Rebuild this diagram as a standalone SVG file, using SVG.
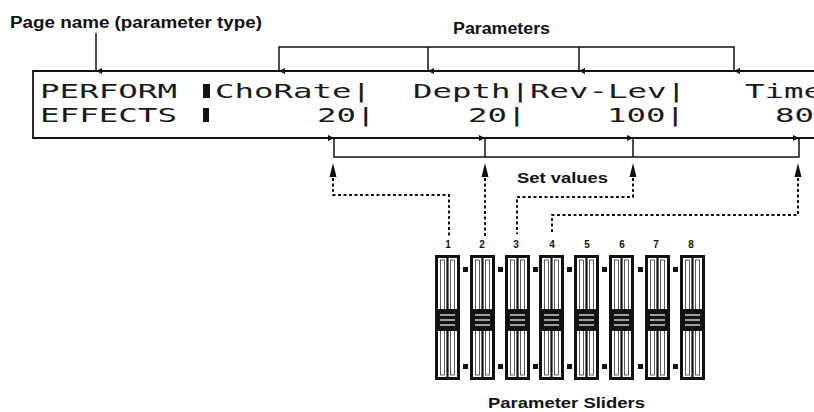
<svg xmlns="http://www.w3.org/2000/svg" width="814" height="412" viewBox="0 0 814 412">
<style>
.lbl{font-family:"Liberation Sans",Arial,sans-serif;font-weight:bold;fill:#111;}
.lcd{font-family:"DejaVu Sans Mono","Liberation Mono",monospace;font-size:19px;fill:#1a1a1a;}
.num{font-family:"Liberation Sans",Arial,sans-serif;font-weight:bold;font-size:10px;fill:#111;text-anchor:middle;}
.ln{stroke:#111;stroke-width:1.8;fill:none;}
.thin{stroke:#111;stroke-width:1.5;fill:none;}
.dot{stroke:#111;stroke-width:2;fill:none;stroke-dasharray:3 2.5;}
</style>
<defs>
<marker id="tipd" viewBox="0 0 6 6" refX="3" refY="6" markerWidth="6" markerHeight="6" orient="auto-start-reverse" markerUnits="userSpaceOnUse"><path d="M0,0 L6,0 L3,6 Z" fill="#111"/></marker>
<g id="slider">
<rect x="0" y="0" width="25" height="125" fill="#111"/>
<rect x="3" y="3" width="19" height="119" fill="#fff"/>
<rect x="5.5" y="5" width="4" height="115" fill="#fff" stroke="#333" stroke-width="0.8"/>
<rect x="15.5" y="5" width="4" height="115" fill="#fff" stroke="#333" stroke-width="0.8"/>
<line x1="12.5" y1="3" x2="12.5" y2="122" stroke="#111" stroke-width="2.2"/>
<rect x="3" y="54" width="19" height="22" fill="#111"/>
<line x1="5" y1="60" x2="20" y2="60" stroke="#fff" stroke-width="1.2"/>
<line x1="5" y1="65" x2="20" y2="65" stroke="#fff" stroke-width="1.2"/>
<line x1="5" y1="70" x2="20" y2="70" stroke="#fff" stroke-width="1.2"/>
</g>
<rect id="sq" width="5" height="5" fill="#111"/>
<path id="up" d="M0,0 L-3.5,14 L3.5,14 Z" fill="#111"/>
</defs>

<g id="page-name-label">
<text class="lbl" x="10" y="28" font-size="16" textLength="252" lengthAdjust="spacingAndGlyphs">Page name (parameter type)</text>
</g>
<g id="parameters-label">
<text class="lbl" x="453" y="34" font-size="16" textLength="97" lengthAdjust="spacingAndGlyphs">Parameters</text>
</g>

<g id="lcd-display">
<line class="ln" x1="33" y1="71" x2="814" y2="71"/>
<line class="ln" x1="33" y1="138" x2="814" y2="138"/>
<line class="ln" x1="33" y1="70" x2="33" y2="139"/>
<text class="lcd" x="40" y="98" textLength="137" lengthAdjust="spacingAndGlyphs">PERFORM</text>
<rect x="203" y="84" width="7" height="14" fill="#111"/>
<text class="lcd" x="215" y="98" textLength="156" lengthAdjust="spacingAndGlyphs">ChoRate|</text>
<text class="lcd" x="413" y="98" textLength="273" lengthAdjust="spacingAndGlyphs">Depth|Rev-Lev|</text>
<text class="lcd" x="745" y="98" textLength="78" lengthAdjust="spacingAndGlyphs">Time</text>
<text class="lcd" x="40" y="122" textLength="137" lengthAdjust="spacingAndGlyphs">EFFECTS</text>
<rect x="203" y="108" width="6" height="14" fill="#111"/>
<text class="lcd" x="317" y="122" textLength="58.5" lengthAdjust="spacingAndGlyphs">20|</text>
<text class="lcd" x="468" y="122" textLength="58.5" lengthAdjust="spacingAndGlyphs">20|</text>
<text class="lcd" x="607" y="122" textLength="78" lengthAdjust="spacingAndGlyphs">100|</text>
<text class="lcd" x="775" y="122" textLength="39" lengthAdjust="spacingAndGlyphs">80</text>
</g>

<g id="set-values-label">
<text class="lbl" x="517" y="183" font-size="15" textLength="91" lengthAdjust="spacingAndGlyphs">Set values</text>
</g>

<g id="connectors">
<line class="thin" x1="96" y1="33" x2="96" y2="71" marker-end="url(#tipd)"/>
<polyline class="thin" points="279,71 279,47 734,47 734,71" marker-start="url(#tipd)" marker-end="url(#tipd)"/>
<line class="thin" x1="428" y1="47" x2="428" y2="71" marker-end="url(#tipd)"/>
<line class="thin" x1="579" y1="47" x2="579" y2="71" marker-end="url(#tipd)"/>
<polyline class="thin" points="334,138 334,157 799,157 799,138" marker-start="url(#tipd)" marker-end="url(#tipd)"/>
<line class="thin" x1="485" y1="157" x2="485" y2="138" marker-end="url(#tipd)"/>
<line class="thin" x1="633" y1="157" x2="633" y2="138" marker-end="url(#tipd)"/>
<use href="#up" x="333" y="163"/>
<use href="#up" x="485" y="163"/>
<use href="#up" x="633" y="163"/>
<use href="#up" x="798" y="163"/>
<polyline class="dot" points="333,178 333,195 449,195 449,236"/>
<polyline class="dot" points="485,178 485,236"/>
<polyline class="dot" points="633,178 633,197 517,197 517,234"/>
<polyline class="dot" points="798,178 798,215 552,215 552,232"/>
</g>

<g id="sliders">
<g id="slider-1"><text class="num" x="448" y="248">1</text><use href="#slider" x="435" y="255"/><use href="#sq" x="463" y="267"/><use href="#sq" x="463" y="364"/></g>
<g id="slider-2"><text class="num" x="482" y="248">2</text><use href="#slider" x="470" y="255"/><use href="#sq" x="498" y="267"/><use href="#sq" x="498" y="364"/></g>
<g id="slider-3"><text class="num" x="516" y="248">3</text><use href="#slider" x="505" y="255"/><use href="#sq" x="533" y="267"/><use href="#sq" x="533" y="364"/></g>
<g id="slider-4"><text class="num" x="552" y="248">4</text><use href="#slider" x="539" y="255"/><use href="#sq" x="567" y="267"/><use href="#sq" x="567" y="364"/></g>
<g id="slider-5"><text class="num" x="587" y="248">5</text><use href="#slider" x="574" y="255"/><use href="#sq" x="602" y="267"/><use href="#sq" x="602" y="364"/></g>
<g id="slider-6"><text class="num" x="622" y="248">6</text><use href="#slider" x="609" y="255"/><use href="#sq" x="638" y="267"/><use href="#sq" x="638" y="364"/></g>
<g id="slider-7"><text class="num" x="656" y="248">7</text><use href="#slider" x="645" y="255"/><use href="#sq" x="673" y="267"/><use href="#sq" x="673" y="364"/></g>
<g id="slider-8"><text class="num" x="691" y="248">8</text><use href="#slider" x="680" y="255"/></g>
</g>

<g id="parameter-sliders-label">
<text class="lbl" x="488" y="408" font-size="15" textLength="157" lengthAdjust="spacingAndGlyphs">Parameter Sliders</text>
</g>
</svg>
